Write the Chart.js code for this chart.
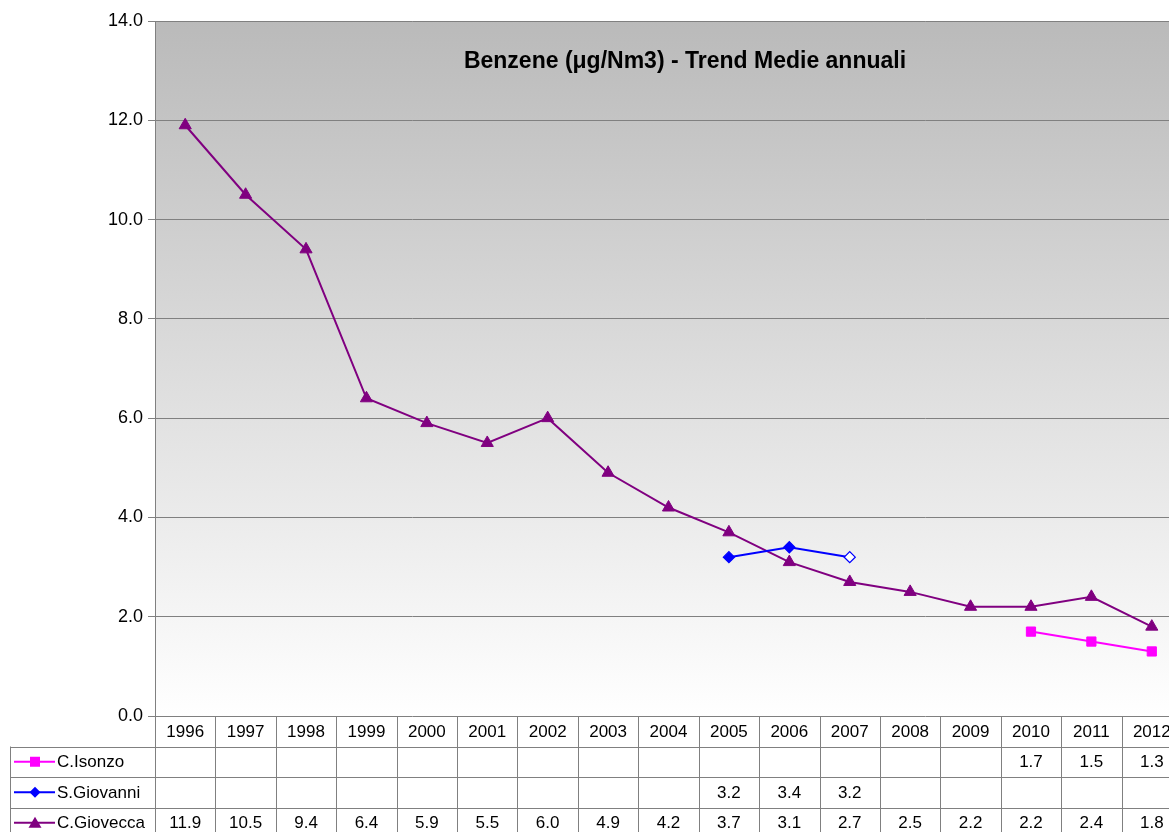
<!DOCTYPE html>
<html>
<head>
<meta charset="utf-8">
<script src="https://cdn.jsdelivr.net/npm/chart.js@4/dist/chart.umd.min.js"></script>
<style>
  html, body { margin: 0; padding: 0; background: #fff; overflow: hidden; }
  #wrap { width: 1190px; height: 832px; }
</style>
</head>
<body>
<div id="wrap"><canvas id="benzene" width="1190" height="832"></canvas></div>
<script>
// data
const years = ['1996', '1997', '1998', '1999', '2000', '2001', '2002', '2003', '2004',
               '2005', '2006', '2007', '2008', '2009', '2010', '2011', '2012'];
const isonzo = [null, null, null, null, null, null, null, null, null,
                null, null, null, null, null, 1.7, 1.5, 1.3];
const giovanni = [null, null, null, null, null, null, null, null, null,
                  3.2, 3.4, 3.2, null, null, null, null, null];
const giovecca = [11.9, 10.5, 9.4, 6.4, 5.9, 5.5, 6.0, 4.9, 4.2,
                  3.7, 3.1, 2.7, 2.5, 2.2, 2.2, 2.4, 1.8];
const yTicks = [0, 2, 4, 6, 8, 10, 12, 14];

const FONT = '"Liberation Sans", Arial, sans-serif';
const GRID = '#808080';

// gray gradient behind the plot + title inside it
const plotBackground = {
    id: 'plotBackground',
    beforeDraw(chart) {
        const { ctx, chartArea: a } = chart;
        const g = ctx.createLinearGradient(0, a.top, 0, a.bottom);
        g.addColorStop(0, '#bababa');
        g.addColorStop(1, '#ffffff');
        ctx.save();
        ctx.fillStyle = g;
        ctx.fillRect(a.left, a.top, a.right - a.left, a.bottom - a.top);
        ctx.restore();
    },
    beforeDatasetsDraw(chart) {
        const { ctx } = chart;
        ctx.save();
        ctx.font = 'bold 23px ' + FONT;
        ctx.fillStyle = '#000';
        ctx.textAlign = 'center';
        ctx.textBaseline = 'middle';
        ctx.fillText('Benzene (\u03bcg/Nm3) - Trend Medie annuali', 685, 62);
        ctx.restore();
    }
};

function drawKey(ctx, ds, x, y) {
    ctx.save();
    ctx.strokeStyle = ds.borderColor;
    ctx.lineWidth = 1.8;
    ctx.beginPath();
    ctx.moveTo(x, y);
    ctx.lineTo(x + 41, y);
    ctx.stroke();
    ctx.fillStyle = ds.borderColor;
    const cx = x + 21;
    ctx.beginPath();
    if (ds.pointStyle === 'rect') {
        ctx.rect(cx - 5, y - 5, 10, 10);
    } else if (ds.pointStyle === 'rectRot') {
        ctx.moveTo(cx, y - 5.5); ctx.lineTo(cx + 5.5, y); ctx.lineTo(cx, y + 5.5); ctx.lineTo(cx - 5.5, y);
        ctx.closePath();
    } else {
        ctx.moveTo(cx, y - 6); ctx.lineTo(cx + 6.5, y + 5); ctx.lineTo(cx - 6.5, y + 5);
        ctx.closePath();
    }
    ctx.fill();
    ctx.restore();
}

// data table under the plot, columns taken from the x scale
const dataTable = {
    id: 'dataTable',
    afterDraw(chart) {
        const { ctx, chartArea: a } = chart;
        const xs = chart.scales.x;
        const colW = (a.right - a.left) / years.length;
        const rowH = 30.5;
        const top = a.bottom;
        const bottom = chart.height + 10;
        ctx.save();
        ctx.strokeStyle = GRID;
        ctx.lineWidth = 1;
        // vertical lines
        for (let i = 0; i <= years.length; i++) {
            const x = Math.round(a.left + i * colW) + 0.5;
            ctx.beginPath();
            ctx.moveTo(x, top);
            ctx.lineTo(x, bottom);
            ctx.stroke();
        }
        // left label box
        ctx.beginPath();
        ctx.moveTo(10.5, top + rowH);
        ctx.lineTo(10.5, bottom);
        ctx.stroke();
        for (let r = 1; r <= 3; r++) {
            const y = Math.round(top + r * rowH) + 0.5;
            ctx.beginPath();
            ctx.moveTo(10, y);
            ctx.lineTo(a.right, y);
            ctx.stroke();
        }
        ctx.font = '17px ' + FONT;
        ctx.fillStyle = '#000';
        ctx.textBaseline = 'middle';
        ctx.textAlign = 'center';
        years.forEach((yr, i) => {
            ctx.fillText(yr, xs.getPixelForValue(i), top + rowH / 2 + 1);
        });
        chart.data.datasets.forEach((ds, r) => {
            const cy = top + (r + 1.5) * rowH + 1;
            ctx.textAlign = 'center';
            ds.data.forEach((v, i) => {
                if (v !== null) ctx.fillText(v.toFixed(1), xs.getPixelForValue(i), cy);
            });
            drawKey(ctx, ds, 14, cy - 1);
            ctx.fillStyle = '#000';
            ctx.textAlign = 'left';
            ctx.fillText(ds.label, 57, cy);
        });
        ctx.restore();
    }
};

new Chart(document.getElementById('benzene'), {
    type: 'line',
    data: {
        labels: years,
        datasets: [{
            label: 'C.Isonzo',
            data: isonzo,
            borderColor: '#ff00ff',
            backgroundColor: '#ff00ff',
            pointStyle: 'rect',
            pointRadius: 6.5,
            borderWidth: 2,
            pointBorderWidth: 1
        }, {
            label: 'S.Giovanni',
            data: giovanni,
            borderColor: '#0000ff',
            backgroundColor: '#0000ff',
            pointBackgroundColor: (c) => c.dataIndex === 11 ? '#ffffff' : '#0000ff',
            pointStyle: 'rectRot',
            pointRadius: 5.5,
            borderWidth: 2,
            pointBorderWidth: 1.3
        }, {
            label: 'C.Giovecca',
            data: giovecca,
            borderColor: '#800080',
            backgroundColor: '#800080',
            pointStyle: 'triangle',
            pointRadius: 7,
            borderWidth: 2,
            pointBorderWidth: 1
        }]
    },
    options: {
        responsive: false,
        animation: false,
        spanGaps: false,
        layout: { padding: { top: 21, bottom: 116, left: 0, right: 8 } },
        plugins: {
            legend: { display: false },
            tooltip: { enabled: false }
        },
        scales: {
            x: { display: false, offset: true },
            y: {
                min: 0,
                max: 14,
                afterFit: (s) => { s.width = 155; },
                afterBuildTicks: (s) => { s.ticks = yTicks.map(v => ({ value: v })); },
                ticks: {
                    padding: 5,
                    color: '#000',
                    font: { family: FONT, size: 18 },
                    callback: (v) => Number(v).toFixed(1)
                },
                grid: { color: GRID, tickLength: 7, tickColor: GRID },
                border: { color: GRID }
            }
        }
    },
    plugins: [plotBackground, dataTable]
});
</script>
</body>
</html>
